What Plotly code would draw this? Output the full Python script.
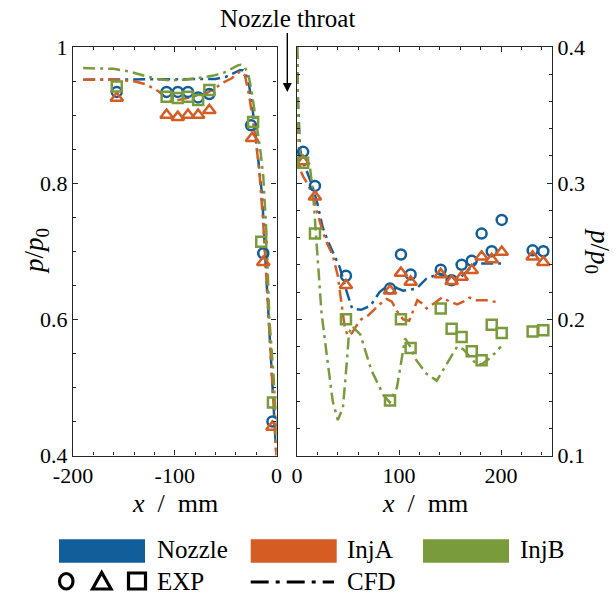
import plotly.graph_objects as go

W, H = 616, 595
FONT = "Liberation Serif, Times New Roman, DejaVu Serif, serif"
BLUE = "#125E9A"
ORANGE = "#D55D24"
GREEN = "#7A9B3B"

# ---------------- data: converging part (left panel) ----------------
exp_L_x_noz = [-157, -108, -97, -87, -77, -66, -25, -13, -4]
exp_L_p_noz = [0.934, 0.934, 0.934, 0.934, 0.926, 0.931, 0.885, 0.697, 0.450]
exp_L_x_injA = [-157, -108, -97, -87, -77, -66, -24, -13, -4]
exp_L_p_injA = [0.925, 0.900, 0.897, 0.900, 0.900, 0.907, 0.866, 0.684, 0.442]
exp_L_x_injB = [-157, -108, -97, -87, -77, -66, -23, -15, -3.5]
exp_L_p_injB = [0.942, 0.927, 0.925, 0.927, 0.922, 0.937, 0.890, 0.714, 0.478]

cfd_L_x_noz = [-190, -160, -130, -100, -80, -60, -50, -42, -36, -33, -30, -27, -24, -20, -17, -14, -11, -8, -4, 0, 1]
cfd_L_p_noz = [0.952, 0.952, 0.952, 0.952, 0.952, 0.953, 0.956, 0.962, 0.966, 0.966, 0.96, 0.945, 0.915, 0.863, 0.82, 0.78, 0.69, 0.61, 0.49, 0.40, 0.37]
cfd_L_x_injA = [-190, -160, -141, -128, -116, -105, -97, -88, -78, -69, -60, -52, -44, -38, -35, -31, -27, -24, -21, -17, -13, -8, -4, 0, 1]
cfd_L_p_injA = [0.952, 0.952, 0.950, 0.945, 0.935, 0.921, 0.922, 0.925, 0.928, 0.932, 0.940, 0.948, 0.954, 0.962, 0.964, 0.958, 0.93, 0.90, 0.87, 0.82, 0.74, 0.61, 0.50, 0.40, 0.37]
cfd_L_x_injB = [-190, -175, -160, -145, -130, -118, -105, -90, -75, -62, -52, -44, -38, -35, -32, -28, -25, -22, -19, -16, -13, -10, -7, -3, 0, 1]
cfd_L_p_injB = [0.969, 0.969, 0.968, 0.964, 0.958, 0.953, 0.951, 0.952, 0.955, 0.958, 0.962, 0.968, 0.973, 0.974, 0.972, 0.962, 0.94, 0.91, 0.88, 0.85, 0.81, 0.73, 0.60, 0.52, 0.43, 0.40]

# ---------------- data: diverging part (right panel) ----------------
exp_R_x = [6, 17.6, 48, 91.2, 101.9, 111.4, 140.9, 151.6, 161.4, 171.3, 181, 190.9, 200.7, 231, 241.5]
exp_R_p_noz = [0.323, 0.298, 0.232, 0.2226, 0.2476, 0.233, 0.2365, 0.2287, 0.240, 0.243, 0.263, 0.250, 0.273, 0.2507, 0.250]
exp_R_p_injA = [0.316, 0.290, 0.225, 0.221, 0.234, 0.2275, 0.233, 0.228, 0.231, 0.236, 0.246, 0.244, 0.2495, 0.246, 0.242]
exp_R_p_injB = [0.315, 0.263, 0.200, 0.1404, 0.200, 0.179, 0.2079, 0.193, 0.187, 0.1765, 0.170, 0.196, 0.190, 0.191, 0.192]

cfd_R_x_noz = [0, 1, 3, 6, 10, 15, 20, 25, 30, 35, 42, 48, 54, 63, 72, 81, 91, 98, 104, 117, 127, 140, 150, 157, 165, 174, 185, 197, 200]
cfd_R_p_noz = [0.40, 0.36, 0.325, 0.315, 0.308, 0.298, 0.285, 0.268, 0.258, 0.250, 0.238, 0.222, 0.208, 0.207, 0.210, 0.220, 0.226, 0.223, 0.221, 0.2225, 0.230, 0.2335, 0.230, 0.229, 0.234, 0.241, 0.241, 0.241, 0.241]
cfd_R_x_injA = [0, 1, 3, 6, 10, 15, 20, 25, 30, 35, 40, 44, 47, 50, 54, 58, 63, 70, 78, 84, 88, 93, 98, 104, 110, 114, 118, 122, 127, 135, 142, 150, 157, 163, 169, 176, 186, 193, 199]
cfd_R_p_injA = [0.40, 0.34, 0.31, 0.305, 0.300, 0.292, 0.278, 0.265, 0.255, 0.247, 0.232, 0.210, 0.193, 0.188, 0.190, 0.195, 0.200, 0.203, 0.209, 0.213, 0.215, 0.213, 0.206, 0.200, 0.199, 0.206, 0.214, 0.212, 0.208, 0.212, 0.216, 0.213, 0.211, 0.213, 0.216, 0.214, 0.214, 0.213, 0.2125]
cfd_R_x_injB = [0, 1, 3, 6, 10, 13, 16, 18, 21, 24, 29, 35, 40, 45, 49, 51, 54, 62, 73, 85, 91, 98, 106, 111, 117, 127, 137, 147, 157, 163, 170, 176, 181, 190, 200]
cfd_R_p_injB = [0.40, 0.35, 0.322, 0.318, 0.315, 0.310, 0.290, 0.270, 0.240, 0.205, 0.175, 0.140, 0.126, 0.135, 0.170, 0.190, 0.195, 0.189, 0.1625, 0.144, 0.139, 0.150, 0.186, 0.180, 0.170, 0.160, 0.155, 0.167, 0.180, 0.178, 0.172, 0.167, 0.167, 0.172, 0.180]

# tick labels
xL_tickvals = [-200, -100, 0]
xL_ticktext = ["-200", "-100", "0"]
xR_tickvals = [0, 100, 200]
xR_ticktext = ["0", "100", "200"]
yL_tickvals = [0.4, 0.6, 0.8, 1.0]
yL_ticktext = ["0.4", "0.6", "0.8", "1"]
yR_tickvals = [0.1, 0.2, 0.3, 0.4]
yR_ticktext = ["0.1", "0.2", "0.3", "0.4"]

legend_names = ["Nozzle", "InjA", "InjB"]
colors = [BLUE, ORANGE, GREEN]


def X(px):
    return px / W


def Y(py):
    return 1 - py / H


DASH = "12px,5px,3px,5px"
LW = 2.5

fig = go.Figure()

cfd_L = [(cfd_L_x_noz, cfd_L_p_noz), (cfd_L_x_injA, cfd_L_p_injA), (cfd_L_x_injB, cfd_L_p_injB)]
cfd_R = [(cfd_R_x_noz, cfd_R_p_noz), (cfd_R_x_injA, cfd_R_p_injA), (cfd_R_x_injB, cfd_R_p_injB)]
for (xs, ps), c in zip(cfd_L, colors):
    fig.add_trace(go.Scatter(x=xs, y=ps, mode="lines", line=dict(color=c, width=LW, dash=DASH),
                             xaxis="x", yaxis="y", showlegend=False))
for (xs, ps), c in zip(cfd_R, colors):
    fig.add_trace(go.Scatter(x=xs, y=ps, mode="lines", line=dict(color=c, width=LW, dash=DASH),
                             xaxis="x2", yaxis="y2", showlegend=False))

symbols = ["circle-open", "triangle-up-open", "square-open"]
sizes = [10, 11, 10]
exp_L = [(exp_L_x_noz, exp_L_p_noz), (exp_L_x_injA, exp_L_p_injA), (exp_L_x_injB, exp_L_p_injB)]
exp_R = [exp_R_p_noz, exp_R_p_injA, exp_R_p_injB]
for (xs, ps), c, s, sz in zip(exp_L, colors, symbols, sizes):
    fig.add_trace(go.Scatter(x=xs, y=ps, mode="markers",
                             marker=dict(symbol=s, size=sz, color=c, line=dict(color=c, width=2.5)),
                             xaxis="x", yaxis="y", showlegend=False))
for ps, c, s, sz in zip(exp_R, colors, symbols, sizes):
    fig.add_trace(go.Scatter(x=exp_R_x, y=ps, mode="markers",
                             marker=dict(symbol=s, size=sz, color=c, line=dict(color=c, width=2.5)),
                             xaxis="x2", yaxis="y2", showlegend=False))

AX = "#262626"
tickfont = dict(family=FONT, size=22, color="black")
common = dict(showline=True, linecolor=AX, linewidth=1.2, mirror="ticks", ticks="inside",
              ticklen=5, tickwidth=1.2, tickcolor=AX, showgrid=False, zeroline=False,
              tickfont=tickfont, tickmode="array", automargin=False)

yd = [Y(455.5), Y(47)]
fig.update_layout(
    width=W, height=H, margin=dict(l=0, r=0, t=0, b=0, autoexpand=False),
    plot_bgcolor="white", paper_bgcolor="white",
    font=dict(family=FONT, color="black"),
    xaxis=dict(domain=[X(73), X(276.5)], range=[-200, 0], tickvals=xL_tickvals, ticktext=xL_ticktext,
               minor=dict(ticks="inside", ticklen=3, tickwidth=1.2, tickcolor=AX, dtick=20, tick0=0),
               anchor="y", **common),
    yaxis=dict(domain=yd, range=[0.4, 1.0], tickvals=yL_tickvals, ticktext=yL_ticktext,
               minor=dict(ticks="inside", ticklen=3, tickwidth=1.2, tickcolor=AX, dtick=0.05, tick0=0),
               anchor="x", **common),
    xaxis2=dict(domain=[X(297), X(552)], range=[0, 250], tickvals=xR_tickvals, ticktext=xR_ticktext,
                minor=dict(ticks="inside", ticklen=3, tickwidth=1.2, tickcolor=AX, dtick=20, tick0=0),
                anchor="y2", **common),
    yaxis2=dict(domain=yd, range=[0.1, 0.4], tickvals=yR_tickvals, ticktext=yR_ticktext, side="right",
                minor=dict(ticks="inside", ticklen=3, tickwidth=1.2, tickcolor=AX, dtick=0.02, tick0=0),
                anchor="x2", **common),
    showlegend=False,
)

ann = []
ann.append(dict(text="Nozzle throat", x=X(287.3), y=Y(92), xref="paper", yref="paper",
                showarrow=True, ax=0, ay=-74, axref="pixel", ayref="pixel",
                arrowhead=2, arrowsize=1.3, arrowwidth=1.4, arrowcolor="black", standoff=0,
                font=dict(family=FONT, size=25, color="black")))
ttl = dict(family=FONT, size=27, color="black")
ann.append(dict(text="<i>p</i>/<i>p</i><sub>0</sub>", x=X(36), y=Y(251), xref="paper", yref="paper",
                showarrow=False, textangle=-90, font=ttl, xanchor="center", yanchor="middle"))
ann.append(dict(text="<i>p</i>/<i>p</i><sub>0</sub>", x=X(598), y=Y(251), xref="paper", yref="paper",
                showarrow=False, textangle=90, font=ttl, xanchor="center", yanchor="middle"))
for cx in (174.5, 424.5):
    ann.append(dict(text="<i>x</i>\u2002/\u2002mm", x=X(cx), y=Y(503), xref="paper", yref="paper",
                    showarrow=False, font=dict(family=FONT, size=26, color="black"),
                    xanchor="center", yanchor="middle"))

# legend (drawn manually)
shapes = []
lg_font = dict(family=FONT, size=25, color="black")
rect_x = [(59, 145), (250.7, 336.7), (423, 509)]
text_x = [155, 345, 518]
for (x0, x1), c, tx, name in zip(rect_x, colors, text_x, legend_names):
    shapes.append(dict(type="rect", xref="paper", yref="paper", x0=X(x0), x1=X(x1), y0=Y(562.7), y1=Y(539.3),
                       fillcolor=c, line=dict(width=0)))
    ann.append(dict(text=name, x=X(tx), y=Y(549), xref="paper", yref="paper", showarrow=False,
                    xanchor="left", yanchor="middle", font=lg_font))
blk = dict(color="black", width=3.2)
shapes.append(dict(type="circle", xref="paper", yref="paper", x0=X(59.5), x1=X(73), y0=Y(589), y1=Y(573.5), line=blk))
shapes.append(dict(type="path", xref="paper", yref="paper",
                   path=f"M {X(92.5)} {Y(589)} L {X(111)} {Y(589)} L {X(101.7)} {Y(572.5)} Z", line=blk))
shapes.append(dict(type="rect", xref="paper", yref="paper", x0=X(128.5), x1=X(145.5), y0=Y(589), y1=Y(573), line=blk))
ann.append(dict(text="EXP", x=X(155), y=Y(581), xref="paper", yref="paper", showarrow=False,
                xanchor="left", yanchor="middle", font=lg_font))
shapes.append(dict(type="line", xref="paper", yref="paper", x0=X(250.7), x1=X(334), y0=Y(582), y1=Y(582),
                   line=dict(color="black", width=3, dash="18px,7px,4px,7px")))
ann.append(dict(text="CFD", x=X(345), y=Y(581), xref="paper", yref="paper", showarrow=False,
                xanchor="left", yanchor="middle", font=lg_font))

fig.update_layout(annotations=ann, shapes=shapes)
fig.write_html("out.html")
